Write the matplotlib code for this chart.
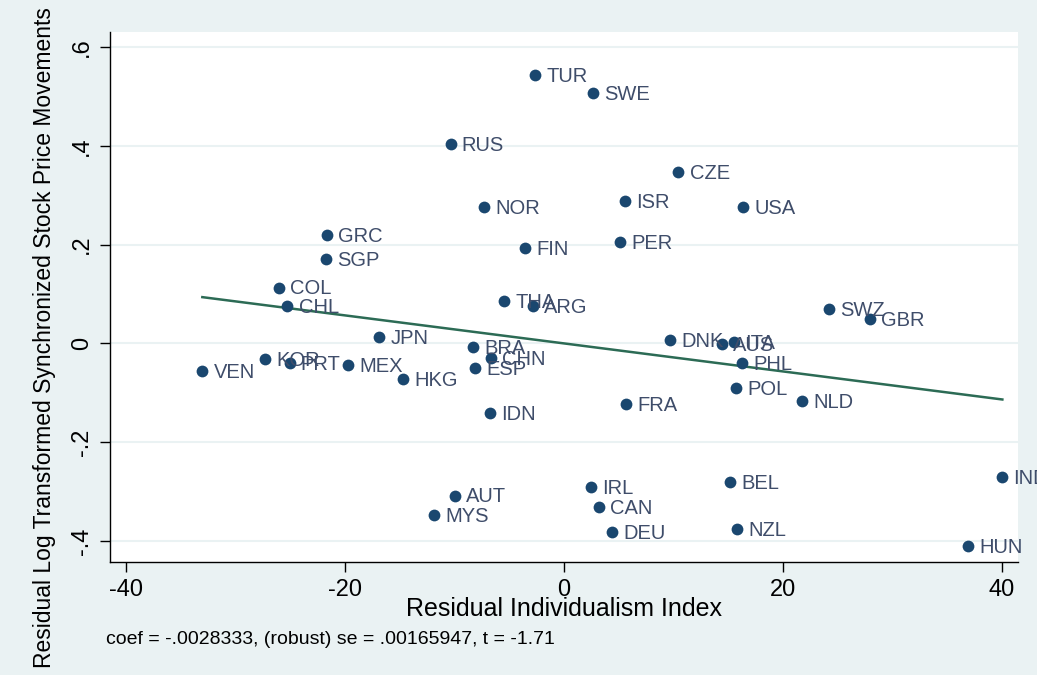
import numpy as np
import matplotlib
matplotlib.use("Agg")
import matplotlib.pyplot as plt

plt.rcParams['font.family'] = ['Liberation Sans', 'DejaVu Sans']
plt.rcParams['axes.unicode_minus'] = False

# added-variable plot: residual individualism vs residual synchronicity
countries = ['TUR', 'SWE', 'RUS', 'CZE', 'ISR', 'NOR', 'USA', 'FIN', 'PER',
             'GRC', 'SGP', 'COL', 'CHL', 'THA', 'ARG', 'SWZ', 'GBR', 'JPN',
             'DNK', 'AUS', 'ITA', 'BRA', 'CHN', 'KOR', 'PRT', 'MEX', 'ESP',
             'VEN', 'HKG', 'PHL', 'POL', 'NLD', 'FRA', 'IDN', 'IND', 'BEL',
             'IRL', 'AUT', 'CAN', 'MYS', 'DEU', 'NZL', 'HUN']
indiv = [-2.65, 2.63, -10.37, 10.46, 5.58, -7.32, 16.40, -3.57, 5.12,
         -21.68, -21.78, -26.07, -25.28, -5.49, -2.81, 24.25, 27.93, -16.90,
         9.70, 14.43, 15.58, -8.30, -6.68, -27.33, -25.07, -19.73, -8.14,
         -33.06, -14.70, 16.31, 15.71, 21.80, 5.67, -6.77, 40.07, 15.19,
         2.47, -9.97, 3.20, -11.89, 4.39, 15.83, 36.96]
synch = [0.543, 0.507, 0.403, 0.346, 0.289, 0.276, 0.276, 0.193, 0.206,
         0.219, 0.171, 0.113, 0.076, 0.086, 0.076, 0.070, 0.049, 0.013,
         0.007, -0.002, 0.003, -0.008, -0.029, -0.031, -0.040, -0.044, -0.049,
         -0.056, -0.072, -0.040, -0.091, -0.116, -0.123, -0.141, -0.270, -0.281,
         -0.290, -0.308, -0.332, -0.347, -0.381, -0.376, -0.410]
coef = -0.0028333
se = 0.00165947
tstat = -1.71

xticks = [-40, -20, 0, 20, 40]
yticks = [-0.4, -0.2, 0, 0.2, 0.4, 0.6]
ytick_labels = ['-.4', '-.2', '0', '.2', '.4', '.6']

bg = '#EAF2F3'
navy = '#1A476F'

fig = plt.figure(figsize=(10.37, 6.75), dpi=100, facecolor=bg)
ax = fig.add_axes([110 / 1037, 1 - 562 / 675, 908 / 1037, 530 / 675])
ax.set_facecolor('white')

x = np.array(indiv)
y = np.array(synch)

ax.set_yticks(yticks)
ax.set_yticklabels(ytick_labels, rotation=90, va='center')
ax.set_xticks(xticks)
ax.grid(axis='y', color=bg, lw=1.5, zorder=0)
ax.set_axisbelow(True)

ax.scatter(x, y, s=72, color=navy, zorder=3, lw=0)
for c, xi, yi in zip(countries, x, y):
    ax.annotate(c, (xi, yi), xytext=(8, -1), textcoords='offset points',
                ha='left', va='center', fontsize=14.5, color='#3f4d6a',
                annotation_clip=False, zorder=4)

# fitted line through the origin
xs = np.array([x.min(), x.max()])
ax.plot(xs, coef * xs, color='#2C6B55', lw=1.8, zorder=2)

ax.set_xlim(-41.5, 41.5)
ax.set_ylim(-0.4425, 0.6304)

for s in ['top', 'right']:
    ax.spines[s].set_visible(False)
for s in ['left', 'bottom']:
    ax.spines[s].set_linewidth(1.0)
ax.tick_params(axis='both', direction='out', length=7, width=1.0,
               labelsize=17, pad=5)

ax.set_xlabel('Residual Individualism Index', fontsize=18, labelpad=-3)
fig.text(45 / 1037, 7 / 675,
         'Residual Log Transformed Synchronized Stock Price Movements',
         rotation=90, ha='center', va='bottom', fontsize=16.5)
fig.text(106 / 1037, 1 - 640 / 675,
         'coef = %s, (robust) se = %s, t = %s' % ('-.0028333', '.00165947', '-1.71'),
         ha='left', va='center', fontsize=14)

fig.savefig('out.png', dpi=100, facecolor=bg)
